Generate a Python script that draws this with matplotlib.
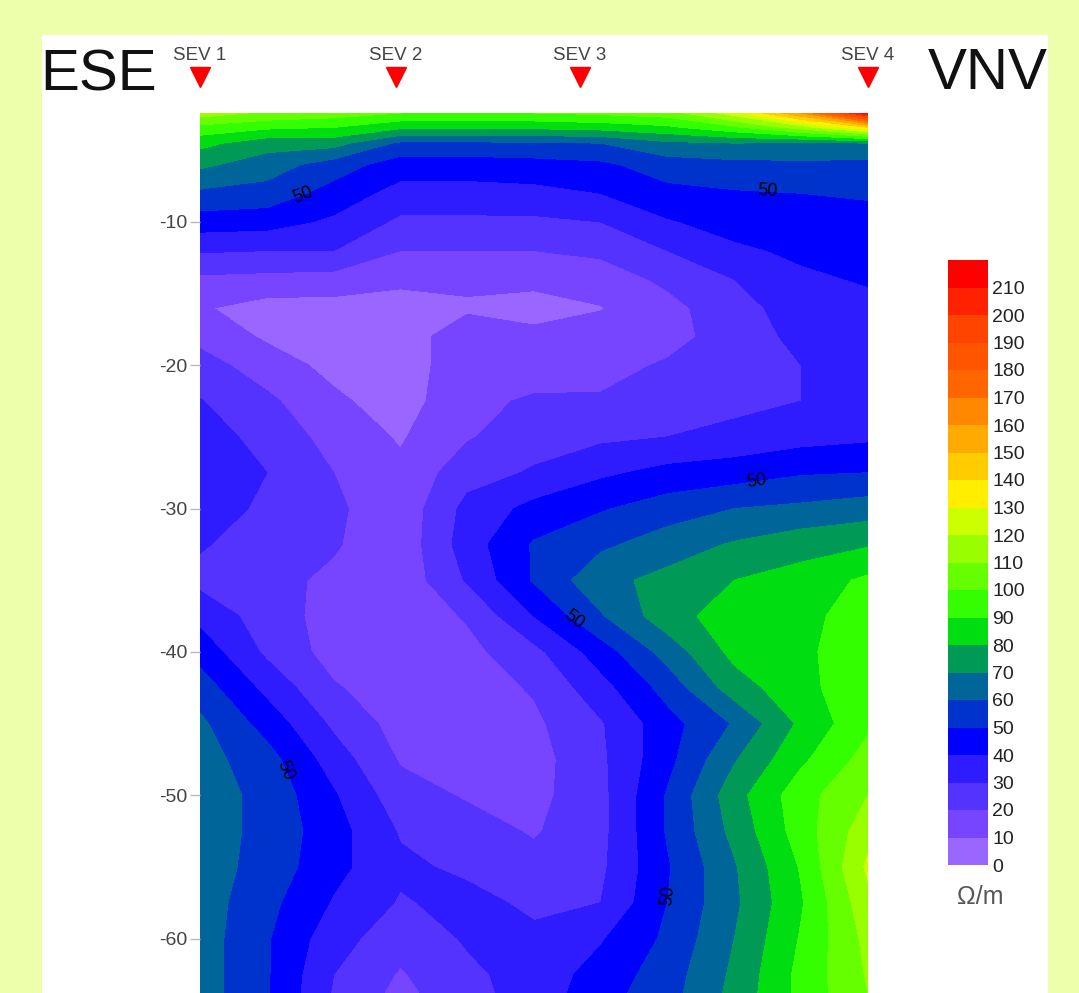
import numpy as np
import matplotlib
matplotlib.use("Agg")
import matplotlib.pyplot as plt
from matplotlib.colors import ListedColormap, BoundaryNorm
from matplotlib.patches import Rectangle

plt.rcParams["font.family"] = ["Liberation Sans", "DejaVu Sans"]
plt.rcParams["axes.unicode_minus"] = False

# ── Data: resistivity section (ohm m) ─────────────────────────────────────────
distance = [0, 10, 20, 30, 40, 50, 60, 70, 80, 90, 100]
depth = [-2.4, -3.4, -4.5, -6, -8, -10, -12, -14, -16, -18, -20, -22.5, -25,
         -27.5, -30, -32.5, -35, -37.5, -40, -42.5, -45, -47.5, -50, -52.5,
         -55, -57.5, -60, -62.5, -63.8]

rho_x000 = [115, 97, 83, 72, 58, 45, 31, 18, 11, 17, 24, 30.5, 34, 37, 35,
            31, 27, 37, 46, 55, 62, 64, 65, 65, 65, 65, 65, 65, 65]
rho_x010 = [108, 92, 74, 65, 56, 44, 30, 17, 6, 8.5, 15, 22, 27, 30, 28,
            25, 23, 25, 28, 37, 46, 54, 57, 57, 56, 53, 51, 51, 51]
rho_x020 = [105, 90, 74, 55, 46, 38, 30, 16, 6, 4, 7, 12, 16, 20, 22,
            21, 18, 16, 16, 21, 28, 35, 41, 44, 43, 39, 34, 30, 29]
rho_x030 = [100, 82, 58, 45, 36, 28, 20, 12, 6, 4, 4, 5, 9, 12, 13,
            13, 13, 13, 13, 14, 16, 19, 24, 29, 32, 29, 24, 19, 17]
rho_x040 = [100, 82, 58, 45, 36, 28, 20, 13, 8, 17, 17, 18, 19, 26, 33,
            35, 31, 21, 17, 15, 14, 15, 19, 24, 28, 33, 31, 28, 27]
rho_x050 = [100, 82, 59, 46, 37, 28, 20, 12, 7, 12, 16, 21, 26, 31, 43,
            51, 51, 40, 27, 21, 18, 16, 17, 19, 23, 28, 32, 34, 34]
rho_x060 = [102, 84, 60, 48, 40, 30, 22, 15, 9.5, 14, 17, 21, 28, 38, 49,
            58, 67, 59, 45, 36, 29, 28, 27, 27, 28, 30, 39, 44, 46]
rho_x070 = [105, 88, 68, 55, 47, 39, 30, 22, 17, 17, 21, 26, 30, 43, 55,
            65, 73, 76, 64, 54, 46, 47, 51, 51, 49, 50, 52, 55, 56]
rho_x080 = [125, 98, 70, 57, 49, 44, 38, 30, 26, 24, 24, 27, 33, 45, 60,
            71, 80, 85, 83, 75, 61, 69, 76, 73, 69, 68, 70, 72, 73]
rho_x090 = [160, 115, 68, 58, 50, 46, 42, 38, 35, 33, 30, 30, 36, 49, 62,
            76, 84, 87, 88, 87, 82, 88, 96, 95, 91, 89, 91, 93, 93]
rho_x100 = [215, 140, 70, 57, 51, 47, 44, 41, 37, 35, 33, 34, 38, 50, 65,
            79, 92, 95, 96, 97, 98, 104, 110, 116, 122, 117, 113, 111, 110]

sev_names = ["SEV 1", "SEV 2", "SEV 3", "SEV 4"]
sev_x = [0, 29.3, 56.9, 100]

levels = list(range(0, 230, 10))
tick_levels = levels[:-1]
level_colors = [
    "#9966FF", "#7744FF", "#5533FF", "#2E1CFF", "#0000FF", "#0033CC",
    "#006699", "#009955", "#00DD11", "#33FF00", "#66FF00", "#99FF00",
    "#CCFF00", "#FFEE00", "#FFCC00", "#FFAA00", "#FF8800", "#FF6600",
    "#FF5500", "#FF4400", "#FF2200", "#FF0000",
]
label_spots = [(15.4, -8.1), (85.0, -7.8), (83.4, -28.2), (55.4, -38.1),
               (12.6, -48.3), (70.4, -57.0)]

Z = np.column_stack([rho_x000, rho_x010, rho_x020, rho_x030, rho_x040,
                     rho_x050, rho_x060, rho_x070, rho_x080, rho_x090,
                     rho_x100])
X, Y = np.meshgrid(distance, depth)

cmap = ListedColormap(level_colors)
norm = BoundaryNorm(levels, cmap.N)

# ── Plot ──────────────────────────────────────────────────────────────────────
fig = plt.figure(figsize=(10.79, 9.93), dpi=100)
fig.patch.set_facecolor("#EDFFAB")
fig.add_artist(Rectangle((42 / 1079, 0), 1006 / 1079, 1 - 35 / 993,
                         transform=fig.transFigure, facecolor="white",
                         edgecolor="none", zorder=-10))

ax = fig.add_axes([200 / 1079, 0.0, 668 / 1079, 1 - 113 / 993])
cf = ax.contourf(X, Y, Z, levels=levels, cmap=cmap, norm=norm)
cs = ax.contour(X, Y, Z, levels=[50], colors="k", linewidths=0)
ax.clabel(cs, fmt="%d", manual=label_spots, inline=False, fontsize=13,
          colors="k")

ax.set_xlim(0, 100)
ax.set_ylim(-63.8, -2.4)
ax.set_xticks([])
ax.set_yticks([-10, -20, -30, -40, -50, -60])
ax.tick_params(axis="y", length=7, width=1, color="#BBBBBB", labelsize=14,
               labelcolor="#444444", pad=2)
for s in ax.spines.values():
    s.set_visible(False)

# sounding markers
tr = ax.get_xaxis_transform()
ax.plot(sev_x, [1.041] * len(sev_x), "v", color="#FF0000", markersize=14,
        transform=tr, clip_on=False)
for name, xs in zip(sev_names, sev_x):
    ax.text(xs, 1.060, name, transform=tr, ha="center", va="baseline",
            fontsize=13.5, color="#444444")

fig.text(40 / 1079, 1 - 91 / 993, "ESE", fontsize=42, ha="left",
         va="baseline", color="#111111")
fig.text(928 / 1079, 1 - 89 / 993, "VNV", fontsize=42, ha="left",
         va="baseline", color="#111111")

# colorbar
cax = fig.add_axes([948 / 1079, 1 - 865 / 993, 40 / 1079, 605 / 993])
cb = fig.colorbar(cf, cax=cax)
cb.set_ticks(tick_levels)
cax.minorticks_off()
cb.outline.set_visible(False)
cax.tick_params(which="both", length=0, labelsize=14, labelcolor="#222222",
                pad=3)
fig.text(980 / 1079, 1 - 897 / 993, "Ω/m", fontsize=18, ha="center",
         va="center", color="#555555")

fig.savefig("out.png", dpi=100, facecolor=fig.get_facecolor())
